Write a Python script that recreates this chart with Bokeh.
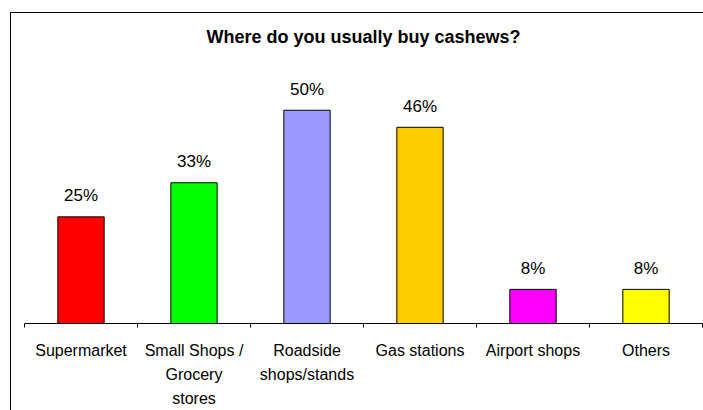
from bokeh.plotting import figure
from bokeh.models import Range1d, FixedTicker, ColumnDataSource, InlineStyleSheet
from bokeh.core.properties import value
from bokeh.embed import file_html
from bokeh.resources import INLINE

categories = ["Supermarket", "Small Shops /\nGrocery\nstores", "Roadside\nshops/stands",
              "Gas stations", "Airport shops", "Others"]
percent = [25, 33, 50, 46, 8, 8]
labels = ["25%", "33%", "50%", "46%", "8%", "8%"]
colors = ["#FF0000", "#00FF00", "#9999FF", "#FFCC00", "#FF00FF", "#FFFF00"]

FONT = "Liberation Sans"
xs = [i + 0.5 for i in range(len(categories))]
src = ColumnDataSource(dict(x=xs, top=percent, label=labels, color=colors))

p = figure(width=703, height=410, output_backend="svg", toolbar_location=None,
           x_range=Range1d(0, len(categories)), y_range=Range1d(0, 62.6),
           min_border_left=24, min_border_right=1, min_border_top=56, min_border_bottom=84,
           title="Where do you usually buy cashews?")
p.outline_line_color = None
p.background_fill_color = "white"
p.border_fill_color = "white"
p.xgrid.visible = False
p.ygrid.visible = False
p.yaxis.visible = False

p.title.align = "center"
p.title.text_font = FONT
p.title.text_font_size = "18px"
p.title.text_font_style = "bold"
p.title.text_color = "black"
p.title.standoff = 20

p.vbar(x="x", top="top", bottom=0, width=0.41, source=src,
       fill_color="color", line_color="black", line_width=1)
p.text(x="x", y="top", text="label", source=src, text_align="center",
       text_baseline="alphabetic", y_offset=-21, text_font=value(FONT),
       text_font_size="17px", text_color="black")

ax = p.xaxis[0]
ax.ticker = FixedTicker(ticks=xs, minor_ticks=list(range(len(categories) + 1)))
ax.major_label_overrides = {x: c for x, c in zip(xs, categories)}
ax.major_tick_line_color = None
ax.major_tick_in = 0
ax.major_tick_out = 0
ax.minor_tick_in = 0
ax.minor_tick_out = 4
ax.minor_tick_line_color = "black"
ax.axis_line_color = "black"
ax.major_label_standoff = 14
ax.major_label_text_font = FONT
ax.major_label_text_font_size = "16px"
ax.major_label_text_color = "black"
ax.major_label_text_line_height = 1.44
ax.major_label_orientation = "horizontal"

# outer chart-area border (left and top edges visible in the reference)
p.stylesheets = [InlineStyleSheet(css=(
    ":host::after { content: ''; position: absolute; left: 10px; top: 12px; "
    "right: 0; bottom: 0; border-left: 1px solid black; border-top: 1px solid black; "
    "pointer-events: none; }"))]

open("out.html", "w").write(file_html(p, INLINE))
